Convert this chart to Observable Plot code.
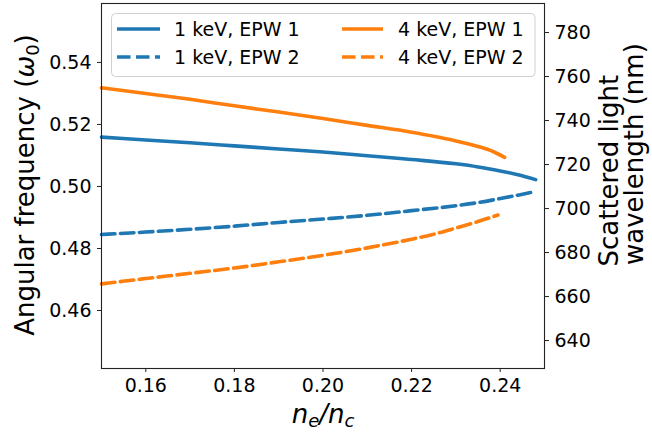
<!DOCTYPE html>
<html>
<head>
<meta charset="utf-8">
<script src="https://cdn.jsdelivr.net/npm/d3@7"></script>
<script src="https://cdn.jsdelivr.net/npm/@observablehq/plot@0.6"></script>
<style>
  html, body { margin: 0; padding: 0; background: white; }
  #chart svg { display: block; }
</style>
</head>
<body>
<div id="chart"></div>
<script>
// ---- data ----
const xKeV1EPW1 = [0.150, 0.160, 0.170, 0.180, 0.190, 0.200, 0.210, 0.220, 0.230, 0.235, 0.240, 0.244, 0.248];
const yKeV1EPW1 = [0.5159, 0.5150, 0.5141, 0.5131, 0.5121, 0.5111, 0.5099, 0.5087, 0.5073, 0.5063, 0.5050, 0.5038, 0.5022];

const xKeV1EPW2 = [0.150, 0.160, 0.170, 0.180, 0.190, 0.200, 0.210, 0.220, 0.230, 0.235, 0.240, 0.244, 0.248];
const yKeV1EPW2 = [0.4845, 0.4853, 0.4862, 0.4872, 0.4884, 0.4895, 0.4907, 0.4922, 0.4938, 0.4948, 0.4961, 0.4972, 0.4984];

const xKeV4EPW1 = [0.150, 0.160, 0.170, 0.180, 0.190, 0.200, 0.210, 0.220, 0.225, 0.230, 0.235, 0.2385, 0.241];
const yKeV4EPW1 = [0.5318, 0.5300, 0.5281, 0.5260, 0.5240, 0.5219, 0.5197, 0.5175, 0.5162, 0.5147, 0.5129, 0.5112, 0.5094];

const xKeV4EPW2 = [0.150, 0.160, 0.170, 0.180, 0.190, 0.200, 0.210, 0.220, 0.225, 0.230, 0.235, 0.2395];
const yKeV4EPW2 = [0.4686, 0.4703, 0.4720, 0.4737, 0.4757, 0.4778, 0.4802, 0.4830, 0.4846, 0.4866, 0.4887, 0.4908];

const seriesNames = ["1 keV, EPW 1", "1 keV, EPW 2", "4 keV, EPW 1", "4 keV, EPW 2"];
const seriesColors = ["#1f77b4", "#1f77b4", "#ff7f0e", "#ff7f0e"];
const seriesDashed = [false, true, false, true];

const xTicks = [0.16, 0.18, 0.20, 0.22, 0.24];
const yTicks = [0.46, 0.48, 0.50, 0.52, 0.54];
const wlTicks = [640, 660, 680, 700, 720, 740, 760, 780];

const xDomain = [0.15, 0.25];
const yDomain = [0.4413, 0.5590];
const wlDomain = [627.3, 793.2];

// ---- build table ----
const xs = [xKeV1EPW1, xKeV1EPW2, xKeV4EPW1, xKeV4EPW2];
const ys = [yKeV1EPW1, yKeV1EPW2, yKeV4EPW1, yKeV4EPW2];
const data = [];
seriesNames.forEach((name, i) => {
  xs[i].forEach((x, j) => data.push({series: name, x, y: ys[i][j]}));
});

const wlToY = d3.scaleLinear().domain(wlDomain).range(yDomain);

const W = 652, H = 432;
const mL = 101, mR = 108, mT = 3, mB = 64;
const font = "DejaVu Sans";
const dash = "13.5,5.5";

const marks = seriesNames.map((name, i) =>
  Plot.line(data.filter(d => d.series === name), {
    x: "x", y: "y",
    stroke: seriesColors[i],
    strokeWidth: 3.6,
    strokeDasharray: seriesDashed[i] ? dash : null,
    curve: "monotone-x"
  })
);

const plot = Plot.plot({
  width: W, height: H,
  marginLeft: mL, marginRight: mR, marginTop: mT, marginBottom: mB,
  style: {fontFamily: font, fontSize: "19px", background: "white", color: "#000"},
  x: {domain: xDomain},
  y: {domain: yDomain},
  marks: [
    ...marks,
    Plot.frame({stroke: "#222", strokeWidth: 1.1}),
    Plot.axisX(xTicks, {tickSize: 4, tickPadding: 6, tickFormat: d3.format(".2f"), label: null, fontSize: 19, stroke: "#222"}),
    Plot.axisY(yTicks, {anchor: "left", tickSize: 4, tickPadding: 6, tickFormat: d3.format(".2f"), label: null, fontSize: 19, stroke: "#222"}),
    Plot.axisY(wlTicks.map(w => wlToY(w)), {anchor: "right", tickSize: 4, tickPadding: 6, tickFormat: v => String(Math.round(wlToY.invert(v))), label: null, fontSize: 19, stroke: "#222"})
  ]
});

document.getElementById("chart").appendChild(plot);

const svg = d3.select(plot);

// ---- axis labels ----
// left: Angular frequency (ω0)
const lx = 34, ly = 185;
const lt = svg.append("text")
  .attr("transform", `translate(${lx},${ly}) rotate(-90)`)
  .attr("text-anchor", "middle")
  .attr("font-family", font).attr("font-size", 26).attr("fill", "#000");
lt.append("tspan").text("Angular frequency (");
lt.append("tspan").attr("font-style", "italic").text("ω");
lt.append("tspan").attr("font-size", 18).attr("dy", 5).text("0");
lt.append("tspan").attr("dy", -5).text(")");

// right: Scattered light / wavelength (nm)
svg.append("text")
  .attr("transform", `translate(617.5,266.5) rotate(-90)`)
  .attr("text-anchor", "start")
  .attr("font-family", font).attr("font-size", 26).attr("fill", "#000")
  .text("Scattered light");
svg.append("text")
  .attr("transform", `translate(643,265) rotate(-90)`)
  .attr("text-anchor", "start")
  .attr("font-family", font).attr("font-size", 26).attr("fill", "#000")
  .text("wavelength (nm)");

// bottom: n_e / n_c
const bt = svg.append("text")
  .attr("x", 323).attr("y", 423)
  .attr("text-anchor", "middle")
  .attr("font-family", font).attr("font-size", 26).attr("fill", "#000")
  .attr("font-style", "italic");
bt.append("tspan").text("n");
bt.append("tspan").attr("font-size", 18).attr("dy", 4).text("e");
bt.append("tspan").attr("dy", -4).text("/n");
bt.append("tspan").attr("font-size", 18).attr("dy", 4).text("c");

// ---- legend ----
const lg = svg.append("g");
lg.append("rect")
  .attr("x", 111.5).attr("y", 13.5).attr("width", 423.5).attr("height", 63)
  .attr("rx", 4).attr("ry", 4)
  .attr("fill", "white").attr("fill-opacity", 0.8)
  .attr("stroke", "#d0d0d0").attr("stroke-width", 1);
const legendCols = [[117, 160, 174], [342, 383, 398]];
const legendRows = [29, 57];
[0, 1, 2, 3].forEach(i => {
  const col = Math.floor(i / 2), row = i % 2;
  const [hx0, hx1, tx] = legendCols[col];
  const yy = legendRows[row];
  lg.append("line")
    .attr("x1", hx0).attr("x2", hx1).attr("y1", yy).attr("y2", yy)
    .attr("stroke", seriesColors[i]).attr("stroke-width", 3.6)
    .attr("stroke-dasharray", seriesDashed[i] ? dash : null);
  lg.append("text")
    .attr("x", tx).attr("y", yy).attr("dy", "0.35em")
    .attr("text-anchor", "start")
    .attr("font-family", font).attr("font-size", 19).attr("fill", "#000")
    .text(seriesNames[i]);
});
</script>
</body>
</html>
